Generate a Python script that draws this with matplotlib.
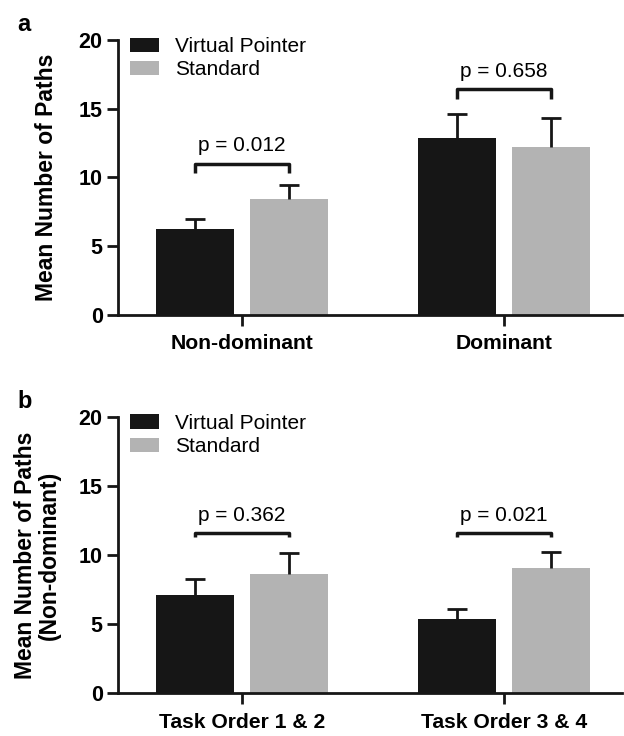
import matplotlib
matplotlib.use("Agg")
import matplotlib.pyplot as plt
import numpy as np

plt.rcParams["font.family"] = ["Liberation Sans", "DejaVu Sans"]

# Panel a: hand dominance
cats_a = ["Non-dominant", "Dominant"]
vp_a = [6.25, 12.9]
vp_err_a = [0.73, 1.7]
std_a = [8.44, 12.2]
std_err_a = [1.0, 2.15]
p_a = ["p = 0.012", "p = 0.658"]
bracket_a = [11.0, 16.4]

# Panel b: task order (non-dominant hand)
cats_b = ["Task Order 1 & 2", "Task Order 3 & 4"]
vp_b = [7.1, 5.35]
vp_err_b = [1.2, 0.77]
std_b = [8.63, 9.04]
std_err_b = [1.5, 1.2]
p_b = ["p = 0.362", "p = 0.021"]
bracket_b = [11.57, 11.57]

BLACK = "#161616"
GREY = "#b3b3b3"
WIDTH = 0.298
OFFSET = 0.179


def draw_panel(ax, cats, vp, vp_err, std, std_err, pvals, brackets, tick_h,
               ylabel, label_x, letter):
    x = np.arange(len(cats))
    err_kw = dict(ecolor=BLACK, elinewidth=2, capsize=7.5, capthick=2)
    for pos, vals, errs, col, name in [(x - OFFSET, vp, vp_err, BLACK, "Virtual Pointer"),
                                       (x + OFFSET, std, std_err, GREY, "Standard")]:
        bars = ax.bar(pos, vals, WIDTH, color=col, label=name,
                      yerr=[np.zeros(len(vals)), errs], error_kw=err_kw, zorder=2)
        # only the upper whisker is shown
        caps = bars.errorbar.lines[1]
        caps[0].set_visible(False)

    for xi, yb, txt in zip(x, brackets, pvals):
        x1, x2 = xi - OFFSET, xi + OFFSET
        ax.plot([x1, x1, x2, x2], [yb - tick_h, yb, yb, yb - tick_h],
                color=BLACK, lw=2.5, solid_capstyle="butt", clip_on=False)
        ax.text(xi, yb + 0.6, txt, ha="center", va="bottom", fontsize=15)

    ax.set_xlim(-0.473, 1.45)
    ax.set_ylim(0, 20)
    ax.set_yticks([0, 5, 10, 15, 20])
    ax.set_xticks(x)
    ax.set_xticklabels(cats, fontweight="bold", fontsize=15.2)
    for lbl in ax.get_yticklabels():
        lbl.set_fontweight("bold")
        lbl.set_fontsize(15.5)
    ax.tick_params(axis="y", direction="out", length=8, width=2, pad=3, color=BLACK)
    ax.tick_params(axis="x", direction="out", length=8, width=2, pad=6, color=BLACK)
    for side in ("top", "right"):
        ax.spines[side].set_visible(False)
    for side in ("left", "bottom"):
        ax.spines[side].set_linewidth(2)
        ax.spines[side].set_color(BLACK)

    ax.set_ylabel(ylabel, fontweight="bold", fontsize=16.5, va="center", linespacing=1.05)
    ax.yaxis.set_label_coords(label_x, 0.5)

    ax.legend(loc="upper left", bbox_to_anchor=(0.024, 1.01), frameon=False,
              fontsize=15, handlelength=1.4, handleheight=0.7, handletextpad=0.75,
              labelspacing=0.2, borderpad=0, borderaxespad=0)
    ax.text(-0.2, 1.015, letter, transform=ax.transAxes, fontsize=17,
            fontweight="bold", ha="left", va="bottom")


fig = plt.figure(figsize=(6.24, 7.36), dpi=100)
ax_a = fig.add_axes([0.189, 0.572, 0.808, 0.3737])
ax_b = fig.add_axes([0.189, 0.058, 0.808, 0.3758])

draw_panel(ax_a, cats_a, vp_a, vp_err_a, std_a, std_err_a, p_a, bracket_a, 0.7,
           "Mean Number of Paths", -0.142, "a")
draw_panel(ax_b, cats_b, vp_b, vp_err_b, std_b, std_err_b, p_b, bracket_b, 0.25,
           "Mean Number of Paths\n(Non-dominant)", -0.16, "b")

fig.savefig("out.png", dpi=100)
